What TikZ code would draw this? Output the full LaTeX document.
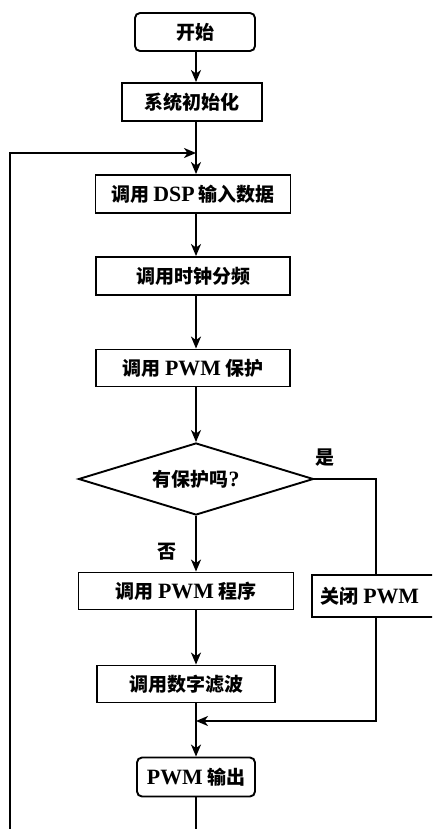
\documentclass[tikz,border=0pt]{standalone}
\usepackage{fontspec}
\setmainfont{Noto Sans CJK SC}
\newfontfamily\latf{Liberation Serif}[Scale=1.15]
\newcommand\LW[1]{{\latf\bfseries #1}}
\usetikzlibrary{arrows.meta,shapes.geometric}
\begin{document}
\begin{tikzpicture}[x=1pt,y=-1pt,
  box/.style={draw, line width=1.9pt, minimum height=38pt, inner sep=0pt, font=\fontsize{19}{19}\selectfont\bfseries},
  rbox/.style={box, rounded corners=5pt},
  arr/.style={line width=1.9pt,-{Stealth[length=12pt,width=10pt,inset=3.5pt]}},
  ln/.style={line width=1.9pt},
  lbl/.style={font=\fontsize{19}{19}\selectfont\bfseries}]
\clip (0,0) rectangle (432,829);
\fill[white] (0,0) rectangle (432,829);
\coordinate (col) at (196,0);
\node[rbox, minimum width=120pt] (start) at (195,32) {开始};
\node[box, minimum width=140pt] (init) at (192,102) {系统初始化};
\node[box, minimum width=195pt] (dsp) at (193,194) {调用 \LW{DSP} 输入数据};
\node[box, minimum width=194pt] (clk) at (193,276) {调用时钟分频};
\node[box, minimum width=194pt, minimum height=37pt] (prot) at (193,368) {调用 \LW{PWM} 保护};
\node[draw, line width=1.9pt, shape=diamond, aspect=3.26, minimum width=235pt, minimum height=72pt, inner sep=0pt, font=\fontsize{19}{19}\selectfont\bfseries] (dec) at (196,479) {有保护吗\LW{?}};
\node[box, minimum width=215pt, minimum height=37pt] (prog) at (186,591) {调用 \LW{PWM} 程序};
\node[box, minimum width=128pt, minimum height=42pt] (close) at (376,596) {关闭 \LW{PWM}\hspace*{12pt}};
\node[box, minimum width=178pt, minimum height=37pt] (filt) at (186,684) {调用数字滤波};
\node[rbox, minimum width=118pt, minimum height=39pt] (out) at (196,777) {\LW{PWM} 输出};
\node[lbl] (yes) at (325,458) {是};
\node[lbl] (no) at (167,552) {否};
\coordinate (lb) at (10,835);
\coordinate (lt) at (10,153);
\coordinate (lj) at (196,153);
\coordinate (mg) at (196,721);
\coordinate (ob) at (196,835);
\draw[arr] (start.south -| col) -- (init.north -| col);
\draw[arr] (init.south -| col) -- (dsp.north -| col);
\draw[arr] (lb) -- (lt) -- (lj);
\draw[arr] (dsp.south -| col) -- (clk.north -| col);
\draw[arr] (clk.south -| col) -- (prot.north -| col);
\draw[arr] (prot.south -| col) -- (dec.north);
\draw[arr] (dec.south) -- (prog.north -| col);
\draw[ln] (dec.east) -| (close.north);
\draw[arr] (prog.south -| col) -- (filt.north -| col);
\draw[arr] (close.south) |- (mg);
\draw[arr] (filt.south -| col) -- (out.north -| col);
\draw[ln] (out.south -| col) -- (ob);
\end{tikzpicture}
\end{document}
